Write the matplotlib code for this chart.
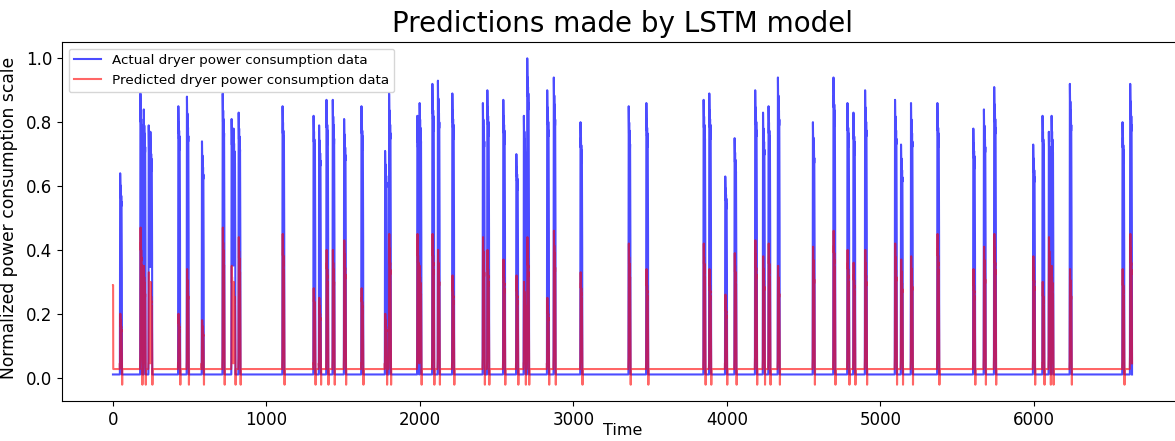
import numpy as np
import matplotlib
matplotlib.use("Agg")
import matplotlib.pyplot as plt

# ---- data ----
n_points = 6640
actual_baseline = 0.01
pred_baseline = 0.027

# time index of each dryer run (pulse start)
event_times = [46, 178, 200, 232, 243, 425, 481, 579, 714, 772, 785, 818,
               1104, 1306, 1342, 1390, 1431, 1505, 1618, 1772, 1798, 1982, 1997,
               2080, 2116, 2210, 2409, 2438, 2542, 2627, 2676, 2698, 2828, 2871,
               3045, 3359, 3474, 3847, 3884, 3988, 4049, 4183, 4234, 4270, 4331,
               4559, 4693, 4784, 4823, 4899, 5094, 5133, 5198, 5370, 5604, 5673,
               5740, 5994, 6055, 6096, 6114, 6233, 6576, 6626]
# peak of actual (normalized) consumption
actual_peaks = [0.64, 0.89, 0.84, 0.79, 0.77, 0.85, 0.88, 0.74, 0.89, 0.81, 0.78, 0.83,
                0.85, 0.82, 0.79, 0.87, 0.87, 0.81, 0.85, 0.71, 0.89, 0.82, 0.86,
                0.92, 0.93, 0.89, 0.86, 0.90, 0.87, 0.70, 0.82, 1.00, 0.90, 0.94,
                0.80, 0.85, 0.86, 0.87, 0.89, 0.63, 0.75, 0.90, 0.83, 0.85, 0.94,
                0.80, 0.94, 0.86, 0.83, 0.90, 0.87, 0.73, 0.86, 0.86, 0.78, 0.84,
                0.91, 0.73, 0.82, 0.77, 0.82, 0.92, 0.80, 0.92]
# peak of LSTM prediction for the same run
pred_peaks = [0.20, 0.47, 0.35, 0.33, 0.30, 0.20, 0.34, 0.18, 0.47, 0.35, 0.30, 0.44,
              0.45, 0.28, 0.25, 0.40, 0.40, 0.43, 0.28, 0.20, 0.45, 0.45, 0.35,
              0.45, 0.40, 0.32, 0.44, 0.40, 0.37, 0.32, 0.30, 0.44, 0.25, 0.46,
              0.33, 0.42, 0.34, 0.42, 0.34, 0.26, 0.39, 0.43, 0.38, 0.42, 0.35,
              0.41, 0.46, 0.40, 0.36, 0.40, 0.42, 0.37, 0.38, 0.45, 0.34, 0.41,
              0.45, 0.38, 0.30, 0.44, 0.35, 0.34, 0.34, 0.45]
# relative level of the samples inside one run (read from the stepped spikes)
actual_profile = [0.45, 1.0, 0.96, 0.9, 0.94, 0.88, 0.91, 0.86, 0.89, 0.84, 0.86, 0.7, 0.5]
pred_profile = [0.15, 0.55, 1.0, 0.85, 0.9, 0.8, 0.85, 0.78, 0.8, 0.72, 0.75, 0.6, 0.35, 0.1]
pred_start_value = 0.29     # first prediction at t=0
pred_dip = -0.022           # undershoot after each run
pred_rise = 0.045           # small bump just before each run

# ---- build series from the event tables ----
time = np.arange(n_points)
actual = np.full(n_points, actual_baseline)
predicted = np.full(n_points, pred_baseline)
predicted[0:2] = pred_start_value
a_prof = np.array(actual_profile)
p_prof = np.array(pred_profile)
for t, a, p in zip(event_times, actual_peaks, pred_peaks):
    na = min(len(a_prof), n_points - t)
    actual[t:t + na] = np.maximum(a * a_prof[:na], actual_baseline)
    predicted[t - 1] = pred_rise
    npd = min(len(p_prof), n_points - t)
    predicted[t:t + npd] = np.maximum(p * p_prof[:npd], pred_baseline)
    if t + npd < n_points:
        predicted[t + npd] = pred_dip

# ---- plot ----
fig = plt.figure(figsize=(11.75, 4.41), dpi=100)
ax = fig.add_axes([62 / 1175, 1 - 401 / 441, (1183 - 62) / 1175, (401 - 42) / 441])
ax.plot(time, actual, color="blue", alpha=0.7, lw=1.5,
        label="Actual dryer power consumption data")
ax.plot(time, predicted, color="red", alpha=0.6, lw=1.5,
        label="Predicted dryer power consumption data")
ax.set_title("Predictions made by LSTM model", fontsize=20, pad=7)
ax.set_xlabel("Time", fontsize=11.5, labelpad=-4)
ax.set_ylabel("Normalized power consumption scale", fontsize=12.3)
ax.yaxis.set_label_coords(-0.039, 0.51)
ax.tick_params(labelsize=12)
ax.set_yticks([0.0, 0.2, 0.4, 0.6, 0.8, 1.0])
ax.legend(loc="upper left", fontsize=9.7)
fig.savefig("out.png", dpi=100)
